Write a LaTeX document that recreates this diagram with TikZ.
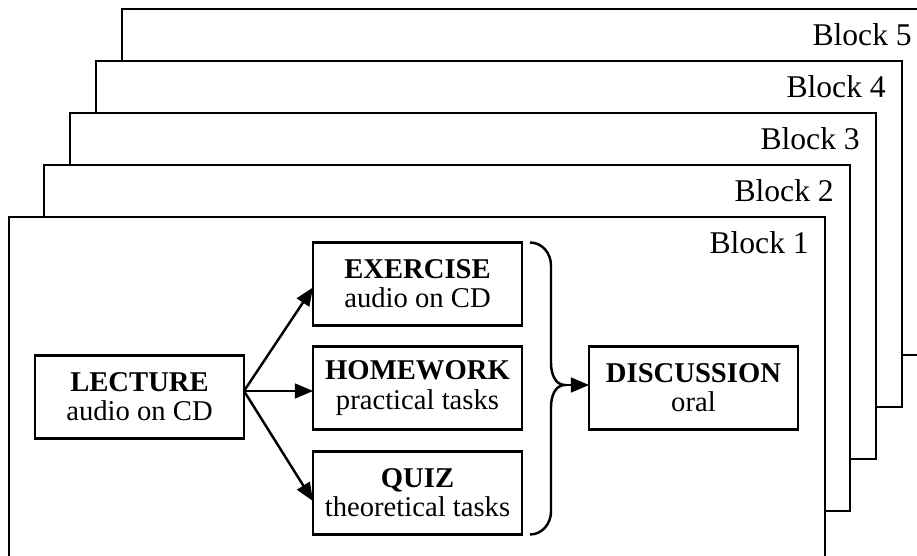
\documentclass[tikz,border=0pt]{standalone}
\usepackage{fontspec}
\setmainfont{Liberation Serif}
\usetikzlibrary{calc, positioning, arrows, arrows.meta}

\begin{document}
\begin{tikzpicture}[line width=1.4pt]
% Block styles
\tikzstyle{blk}=[inner sep=0pt, outer sep=0pt, draw=black, fill=white, line width=.8pt, minimum height=6.92cm, anchor=north west]
\tikzstyle{blklabel}=[inner xsep=.3cm, inner ysep=.26cm, anchor=north east, font=\fontsize{18}{20}\selectfont]
\tikzstyle{task}=[inner sep=0pt, outer sep=0pt, draw=black, black, align=center, minimum width=4.18cm, minimum height=1.66cm, font=\fontsize{16.3}{16.6}\selectfont]
\useasboundingbox (0,0) rectangle (18.34,-11.12);
\clip (0,0) rectangle (18.34,-11.12);
% Stacked blocks
\foreach \k in {5,4,3,2}{
  \node[blk, minimum width=16.12cm] (B\k) at ({0.88+0.52*(\k-2)},{-3.30+1.04*(\k-2)}) {};
  \node[blklabel] at (B\k.north east) {Block \k};
}
\node[blk, minimum width=16.32cm] (B1) at (0.18,-4.34) {};
\node[blklabel] at (B1.north east) {Block 1};
% Tasks
\node[task] (lec) at (2.79,-7.94) {\textbf{LECTURE}\\audio on CD};
\node[task] (hw) at (8.35,-7.76) {\textbf{HOMEWORK}\\practical tasks};
\node[task, above=.42cm of hw] (ex) {\textbf{EXERCISE}\\audio on CD};
\node[task, below=.44cm of hw] (quiz) {\textbf{QUIZ}\\theoretical tasks};
\node[task, right=1.34cm of hw] (disc) {\textbf{DISCUSSION}\\oral};
% Arrows
\coordinate (fan) at ([yshift=.12cm]lec.east);
\draw[-triangle 45] (fan)--([yshift=-.07cm]ex.west);
\draw[-triangle 45] (fan)--(fan-|hw.west);
\draw[-triangle 45] (fan)--([yshift=-.16cm]quiz.west);
% Brace
\coordinate (b1) at ([xshift=.16cm]ex.north east);
\coordinate (b2) at ([xshift=.16cm]quiz.south east);
\coordinate (tip) at ([xshift=-.48cm, yshift=.06cm]disc.west);
\draw (b1) to[out=0, in=90] ($(b1)+(.42,-.46)$) -- ($(tip)+(-.28,.44)$) to[out=-90, in=180] (tip)
      to[out=180, in=90] ($(tip)+(-.28,-.44)$) -- ($(b2)+(.42,.46)$) to[out=-90, in=0] (b2);
\draw[-triangle 45] (tip)--(tip-|disc.west);
\end{tikzpicture}
\end{document}
